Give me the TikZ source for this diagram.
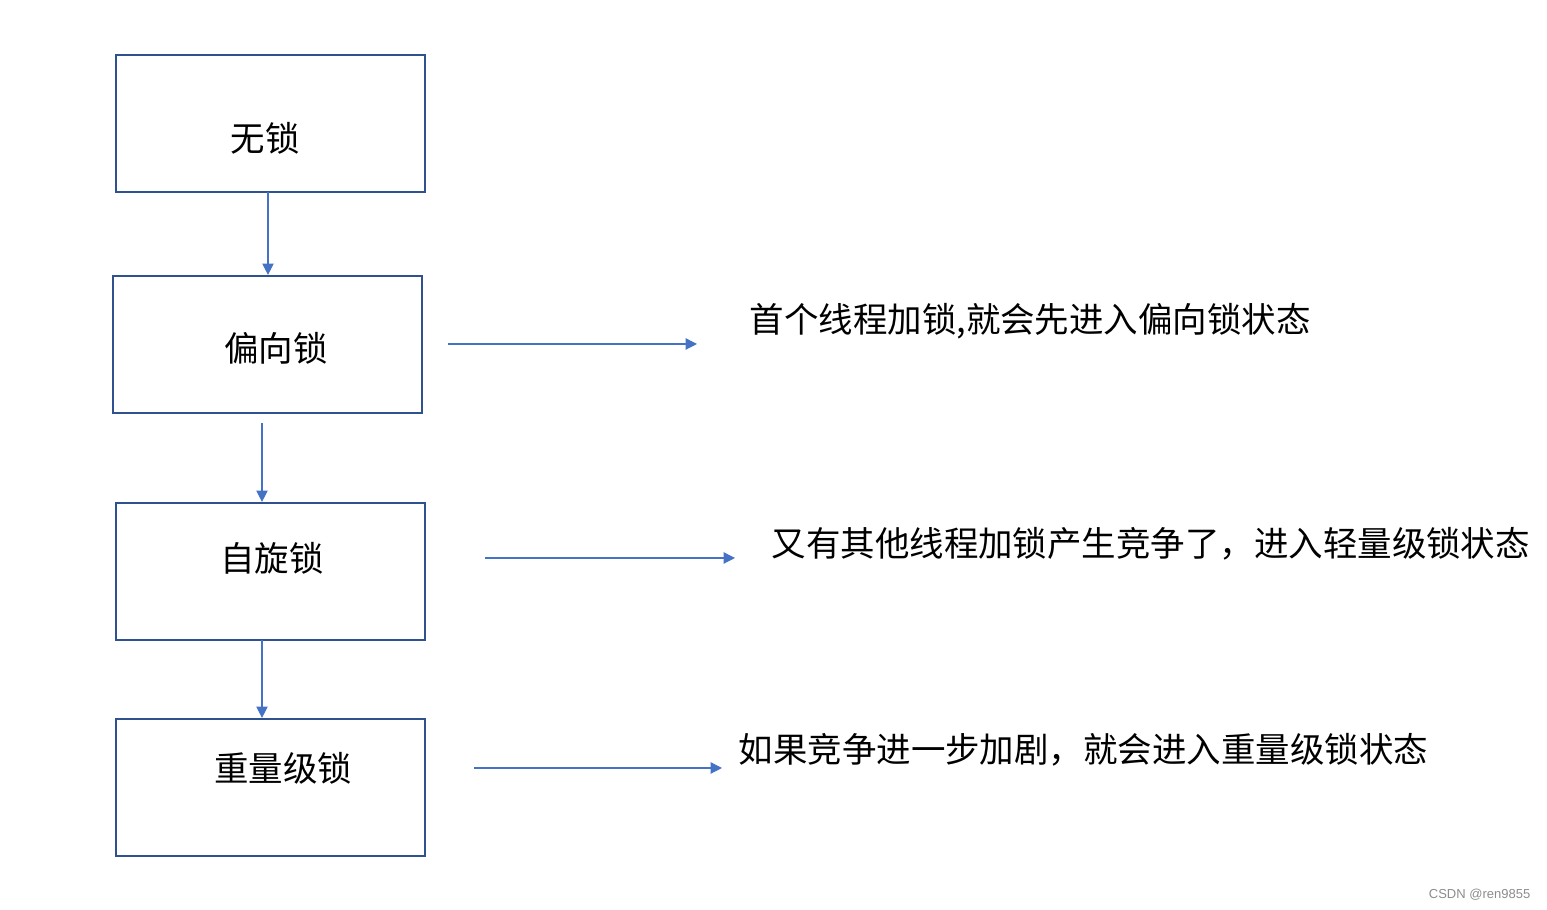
\documentclass[tikz,border=0pt]{standalone}
\usepackage{fontspec}
\newfontfamily\cjk{Noto Sans CJK SC}
\newfontfamily\wmfont{Liberation Sans}
\usetikzlibrary{arrows.meta}
\definecolor{boxblue}{HTML}{2F528F}
\definecolor{arrblue}{HTML}{4472C4}

\begin{document}
\begin{tikzpicture}[x=0.01cm, y=-0.01cm,
  box/.style={draw=boxblue, line width=0.6pt, rectangle, minimum width=3.09cm, minimum height=1.37cm, inner sep=0pt},
  txt/.style={font=\cjk\fontsize{9.8pt}{11pt}\selectfont, inner sep=0pt},
  arr/.style={draw=arrblue, line width=0.35pt, -{Triangle[length=3.2pt,width=3.2pt]}}]
\useasboundingbox (0,0) rectangle (1547,910);
% state boxes
\node[box] (wusuo) at (270.5,123.5) {};
\node[box] (pianxiang) at (267.5,344.5) {};
\node[box] (zixuan) at (270.5,571.5) {};
\node[box] (zhongliang) at (270.5,787.5) {};
\node[txt] (T1) at (265,138) {无锁};
\node[txt] (T2) at (276,348) {偏向锁};
\node[txt] (T3) at (272,558) {自旋锁};
\node[txt] (T4) at (283,768) {重量级锁};
% downward arrows
\coordinate (D1) at (268,192);
\coordinate (D2) at (262,423);
\coordinate (D3) at (262,640);
\draw[arr] (D1) -- (D1 |- pianxiang.north);
\draw[arr] (D2) -- (D2 |- zixuan.north);
\draw[arr] (D3) -- (D3 |- zhongliang.north);
% side notes
\coordinate (S1) at (448,344);
\coordinate (E1) at (697,344);
\coordinate (S2) at (485,558);
\coordinate (E2) at (735,558);
\coordinate (S3) at (474,768);
\coordinate (E3) at (722,768);
\draw[arr] (S1) -- (E1);
\draw[arr] (S2) -- (E2);
\draw[arr] (S3) -- (E3);
\node[txt, anchor=west] (N1) at (749,321) {首个线程加锁,就会先进入偏向锁状态};
\node[txt, anchor=west] (N2) at (771,544) {又有其他线程加锁产生竞争了，进入轻量级锁状态};
\node[txt, anchor=west] (N3) at (738,750) {如果竞争进一步加剧，就会进入重量级锁状态};
\node[font=\wmfont\fontsize{3.7pt}{4pt}\selectfont, text=black!45, anchor=east, inner sep=0pt] (wm) at (1531,895) {CSDN @ren9855};
\end{tikzpicture}
\end{document}
